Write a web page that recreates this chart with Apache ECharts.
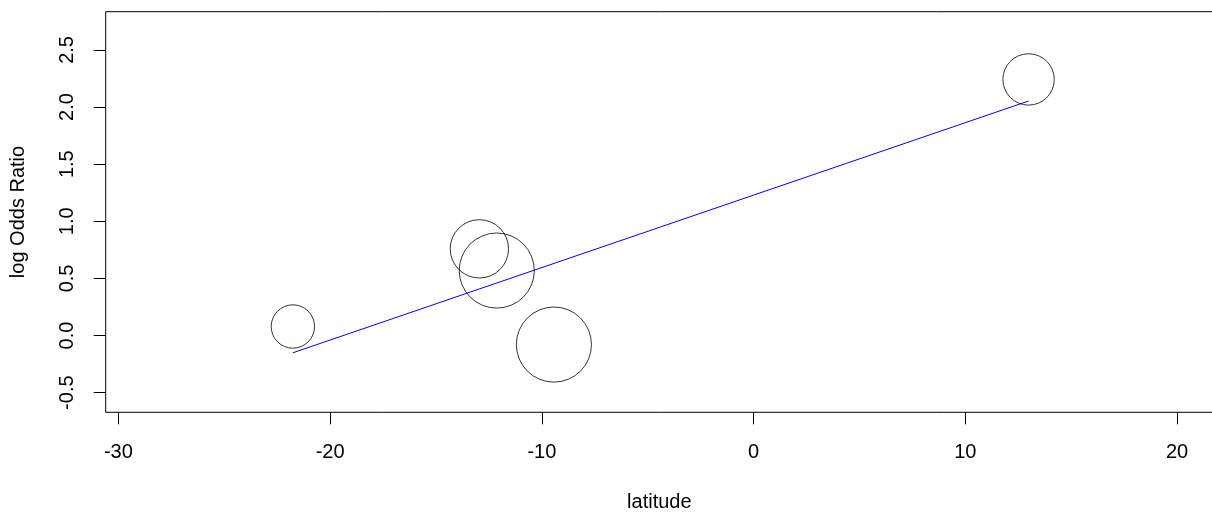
<!DOCTYPE html>
<html>
<head>
<meta charset="utf-8">
<title>log Odds Ratio vs latitude</title>
<script src="https://cdn.jsdelivr.net/npm/echarts@6/dist/echarts.min.js"></script>
<style>
  html, body { margin: 0; padding: 0; background: #fff; }
  #chart { width: 1212px; height: 513px; }
</style>
</head>
<body>
<div id="chart"></div>
<script>
// study points (latitude, log odds ratio) and their weights (circle area)
var latitude = [-21.76, -12.95, -12.13, -9.43, 12.99]
var logOR = [0.079, 0.759, 0.569, -0.079, 2.242]
var weights = [4.7, 8.5, 14.1, 14.1, 6.6]

// fitted meta-regression line, end points
var fitX = [-21.76, 12.99]
var fitY = [-0.151, 2.053]

// tick labels
var xTicks = [-30, -20, -10, 0, 10, 20]
var yTicks = [-0.5, 0, 0.5, 1, 1.5, 2, 2.5]

var font = 'Liberation Sans, Arial, sans-serif'
var chart = echarts.init(document.getElementById('chart'))

chart.setOption({
  animation: false,
  textStyle: { fontFamily: font },
  grid: {
    left: 105.7,
    right: -1,
    top: 11.7,
    bottom: 100.7,
    show: true,
    borderColor: '#000',
    borderWidth: 1,
    containLabel: false,
    outerBoundsMode: 'none'
  },
  xAxis: {
    type: 'value',
    min: -30.6,
    max: 21.7,
    name: 'latitude',
    nameLocation: 'middle',
    nameGap: 80,
    nameMoveOverlap: false,
    nameTextStyle: { color: '#000', fontSize: 20, fontFamily: font },
    axisLine: { show: false, onZero: false },
    splitLine: { show: false },
    axisTick: {
      show: true,
      length: 12,
      customValues: xTicks,
      lineStyle: { color: '#000', width: 1 }
    },
    axisLabel: {
      customValues: xTicks,
      margin: 30,
      color: '#000',
      fontSize: 20,
      fontFamily: font
    }
  },
  yAxis: {
    type: 'value',
    min: -0.672,
    max: 2.835,
    name: 'log Odds Ratio',
    nameLocation: 'middle',
    nameGap: 77,
    nameMoveOverlap: false,
    nameTextStyle: { color: '#000', fontSize: 20, fontFamily: font },
    axisLine: { show: false, onZero: false },
    splitLine: { show: false },
    axisTick: {
      show: true,
      length: 12,
      customValues: yTicks,
      lineStyle: { color: '#000', width: 1 }
    },
    axisLabel: {
      customValues: yTicks,
      rotate: 90,
      margin: 28,
      color: '#000',
      fontSize: 20,
      fontFamily: font,
      formatter: function (v) { return v.toFixed(1) }
    }
  },
  series: [
    {
      type: 'scatter',
      data: latitude.map(function (x, i) { return [x, logOR[i], weights[i]] }),
      symbol: 'circle',
      symbolSize: function (d) { return 20 * Math.sqrt(d[2]) },
      itemStyle: { color: 'rgba(0,0,0,0)', borderColor: '#000', borderWidth: 1 },
      emphasis: { disabled: true },
      silent: true
    },
    {
      type: 'line',
      data: fitX.map(function (x, i) { return [x, fitY[i]] }),
      showSymbol: false,
      symbol: 'none',
      lineStyle: { color: '#0000ff', width: 1 },
      silent: true
    }
  ]
})
</script>
</body>
</html>
